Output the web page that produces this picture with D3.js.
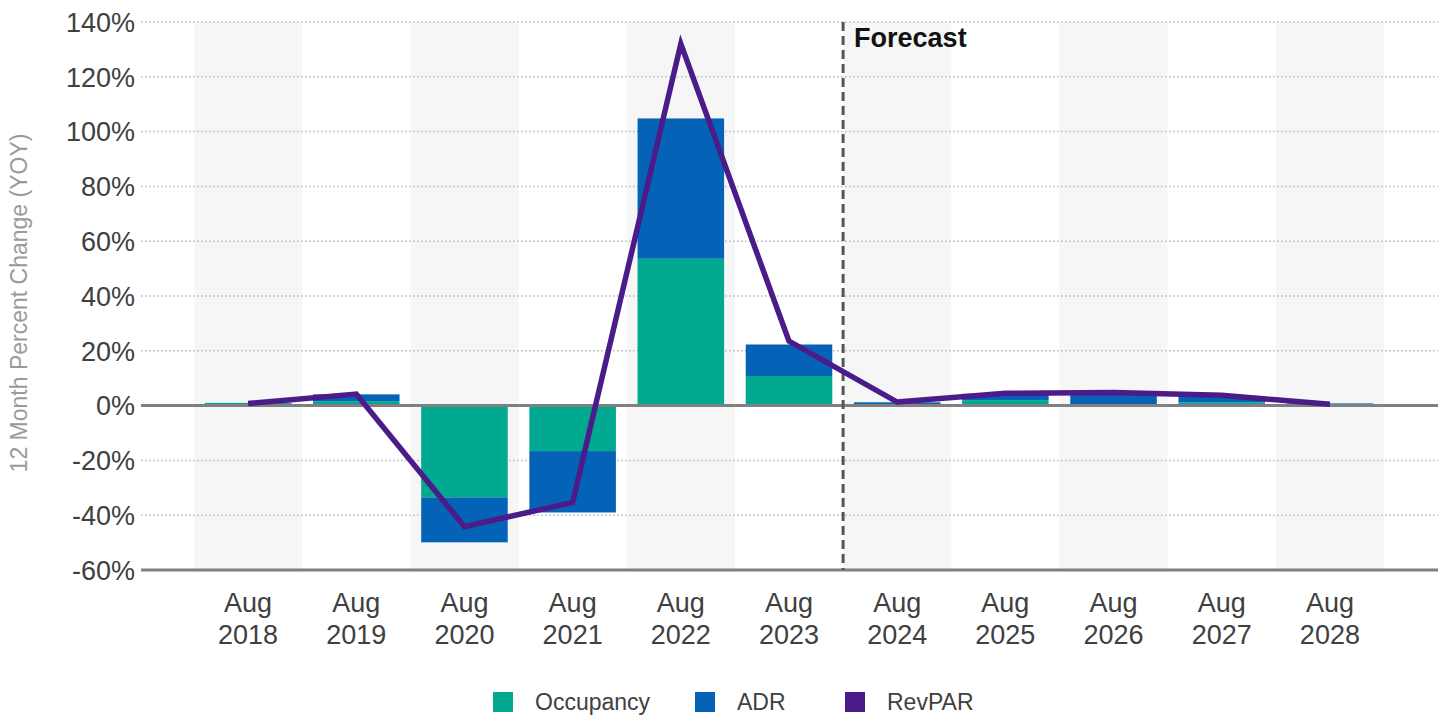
<!DOCTYPE html>
<html>
<head>
<meta charset="utf-8">
<script src="https://cdn.jsdelivr.net/npm/d3@7"></script>
<style>
  html, body { margin: 0; padding: 0; background: #fff; }
  svg { display: block; font-family: "Liberation Sans", Arial, sans-serif; }
</style>
</head>
<body>
<svg id="chart" width="1445" height="717"></svg>
<script>
// Year-over-year percent change, hotel KPIs
const categories = ["2018", "2019", "2020", "2021", "2022", "2023", "2024", "2025", "2026", "2027", "2028"];
const occupancy = [1.0, 1.6, -33.5, -16.6, 53.6, 10.8, 0.1, 2.0, 0.4, 1.2, -0.5];
const adr       = [0.0, 2.5, -16.4, -22.4, 51.2, 11.5, 1.1, 2.3, 4.2, 2.3, 1.3];
const revpar    = [0.8, 4.2, -44.2, -35.3, 132.0, 23.5, 1.3, 4.5, 4.8, 3.8, 0.5];
const yTicks = [-60, -40, -20, 0, 20, 40, 60, 80, 100, 120, 140];
const forecastStart = "2024";
const seriesNames = ["Occupancy", "ADR", "RevPAR"];
const colors = { Occupancy: "#00A98F", ADR: "#0563B7", RevPAR: "#4B1C89" };

const svg = d3.select("#chart");
const plotLeft = 141, plotRight = 1438, plotTop = 22, plotBottom = 570;

const x = d3.scaleBand().domain(categories).range([194, 1384]).padding(0);
const barW = x.bandwidth() * 0.8;
const y = d3.scaleLinear().domain([-60, 140]).range([plotBottom, plotTop]);

// alternating band shading
svg.append("g").selectAll("rect")
  .data(categories.filter((d, i) => i % 2 === 0))
  .join("rect")
  .attr("x", d => x(d)).attr("width", x.bandwidth())
  .attr("y", plotTop).attr("height", plotBottom - plotTop)
  .attr("fill", "#f6f6f6");

// dotted gridlines
svg.append("g").selectAll("line")
  .data(yTicks.filter(t => t !== 0 && t !== -60))
  .join("line")
  .attr("x1", plotLeft).attr("x2", plotRight)
  .attr("y1", d => y(d)).attr("y2", d => y(d))
  .attr("stroke", "#b8b8b8").attr("stroke-width", 1.5)
  .attr("stroke-dasharray", "1.5,2.5");

// y tick labels
svg.append("g").selectAll("text")
  .data(yTicks)
  .join("text")
  .attr("x", 135).attr("y", d => y(d))
  .attr("dy", "0.36em")
  .attr("text-anchor", "end")
  .attr("font-size", 27)
  .attr("fill", "#404040")
  .text(d => d + "%");

// y axis title
svg.append("text")
  .attr("transform", `translate(27,${(plotTop + plotBottom) / 2 + 7}) rotate(-90)`)
  .attr("text-anchor", "middle")
  .attr("font-size", 23)
  .attr("fill", "#9a9a9a")
  .text("12 Month Percent Change (YOY)");

// stacked bars: occupancy from zero, ADR stacked on top in the same direction
const stack = categories.map((c, i) => {
  const o = occupancy[i], a = adr[i];
  return { c, o0: 0, o1: o, a0: o, a1: o + a };
});
const bars = svg.append("g");
bars.selectAll("rect.occ")
  .data(stack).join("rect").attr("class", "occ")
  .attr("x", d => x(d.c) + (x.bandwidth() - barW) / 2)
  .attr("width", barW)
  .attr("y", d => y(Math.max(d.o0, d.o1)))
  .attr("height", d => Math.abs(y(d.o0) - y(d.o1)))
  .attr("fill", colors.Occupancy);
bars.selectAll("rect.adr")
  .data(stack).join("rect").attr("class", "adr")
  .attr("x", d => x(d.c) + (x.bandwidth() - barW) / 2)
  .attr("width", barW)
  .attr("y", d => y(Math.max(d.a0, d.a1)))
  .attr("height", d => Math.abs(y(d.a0) - y(d.a1)))
  .attr("fill", colors.ADR);

// zero line and bottom axis
svg.append("line")
  .attr("x1", plotLeft).attr("x2", plotRight)
  .attr("y1", y(0)).attr("y2", y(0))
  .attr("stroke", "#808080").attr("stroke-width", 3);
svg.append("line")
  .attr("x1", plotLeft).attr("x2", plotRight)
  .attr("y1", y(-60)).attr("y2", y(-60))
  .attr("stroke", "#808080").attr("stroke-width", 3);

// forecast divider
const fx = x(forecastStart);
svg.append("line")
  .attr("x1", fx).attr("x2", fx)
  .attr("y1", plotTop).attr("y2", plotBottom)
  .attr("stroke", "#555").attr("stroke-width", 3)
  .attr("stroke-dasharray", "9,5");
svg.append("text")
  .attr("x", fx + 11).attr("y", 47)
  .attr("font-size", 27).attr("font-weight", "bold")
  .attr("fill", "#111")
  .text("Forecast");

// RevPAR line
const line = d3.line()
  .x((d, i) => x(categories[i]) + x.bandwidth() / 2)
  .y(d => y(d));
svg.append("path")
  .datum(revpar)
  .attr("d", line)
  .attr("fill", "none")
  .attr("stroke", colors.RevPAR)
  .attr("stroke-width", 5.5)
  .attr("stroke-linejoin", "miter");

// x labels
const xl = svg.append("g").selectAll("text")
  .data(categories).join("text")
  .attr("text-anchor", "middle")
  .attr("font-size", 27)
  .attr("fill", "#404040")
  .attr("x", d => x(d) + x.bandwidth() / 2);
xl.append("tspan").attr("x", d => x(d) + x.bandwidth() / 2).attr("y", 612).text("Aug");
xl.append("tspan").attr("x", d => x(d) + x.bandwidth() / 2).attr("y", 644).text(d => d);

// legend
const legendX = [493, 695, 845];
const lg = svg.append("g").selectAll("g")
  .data(seriesNames).join("g")
  .attr("transform", (d, i) => `translate(${legendX[i]},692)`);
lg.append("rect").attr("width", 20).attr("height", 20).attr("fill", d => colors[d]);
lg.append("text").attr("x", 42).attr("y", 18)
  .attr("font-size", 23).attr("fill", "#404040")
  .text(d => d);
</script>
</body>
</html>
